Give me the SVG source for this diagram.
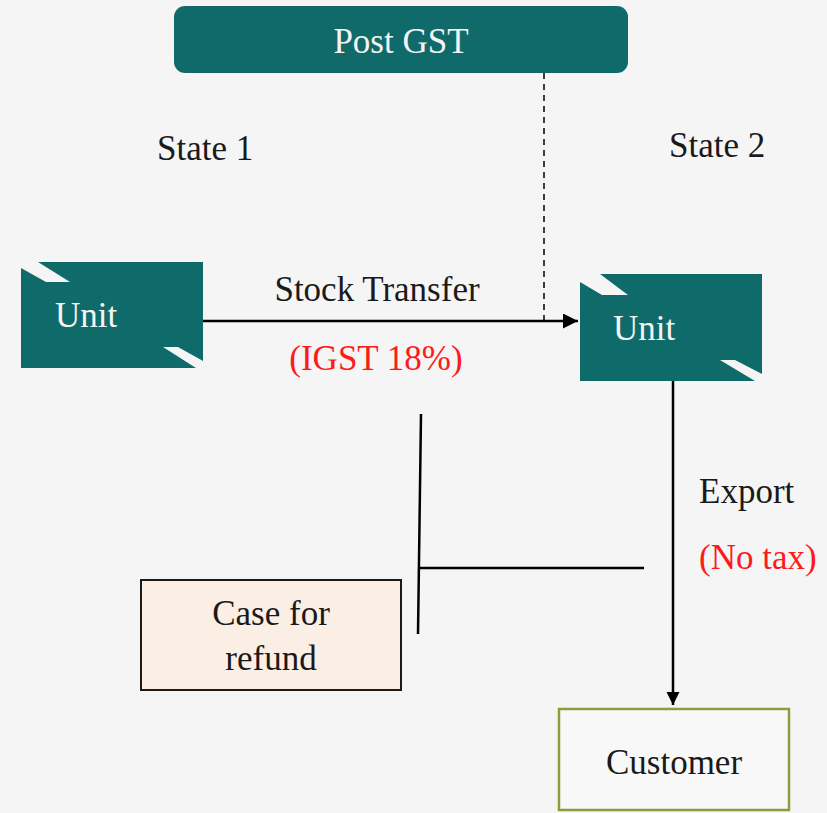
<svg xmlns="http://www.w3.org/2000/svg" width="827" height="813" viewBox="0 0 827 813">
  <defs>
    <marker id="arrow" viewBox="0 0 10 10" refX="10" refY="5" markerWidth="6" markerHeight="6" markerUnits="strokeWidth" orient="auto">
      <path d="M0,0 L10,5 L0,10 Z" fill="#000"/>
    </marker>
    <marker id="arrow-v" viewBox="0 0 10 10" refX="10" refY="5" markerWidth="5.3" markerHeight="5.3" markerUnits="strokeWidth" orient="auto">
      <path d="M0,0 L10,5 L0,10 Z" fill="#000"/>
    </marker>
    <style>
      .lbl { font-family: "Liberation Serif", "Times New Roman", serif; font-size: 35px; fill: #1a1a1a; }
      .red { fill: #ff1a1a; }
      .white { fill: #f4f4f4; }
      .teal { fill: #0e6b69; }
      .line { stroke: #000; stroke-width: 2.5; fill: none; }
    </style>
  </defs>

  <rect width="827" height="813" fill="#f5f5f5"/>

  <!-- header -->
  <g id="post-gst">
    <rect x="174" y="6" width="454" height="67" rx="11" fill="#116a6a"/>
    <text class="lbl white" x="401" y="53" text-anchor="middle">Post GST</text>
  </g>

  <text class="lbl" x="157" y="160">State 1</text>
  <text class="lbl" x="669" y="157">State 2</text>

  <!-- unit in state 1 -->
  <g id="unit-1">
    <polygon class="teal" points="21,268 46,282 70,282 38,262 203,262 203,361 178,347 163,347 196,368 21,368"/>
    <text class="lbl white" x="55" y="327">Unit</text>
  </g>

  <!-- unit in state 2 -->
  <g id="unit-2">
    <polygon class="teal" points="580,282 602,295 628,295 600,274 762,274 762,374 735,360 720,360 755,381 580,381"/>
    <text class="lbl white" x="613" y="340">Unit</text>
  </g>

  <g id="refund">
    <rect x="141" y="580" width="260" height="110" fill="#fbeee5" stroke="#1a1a1a" stroke-width="2"/>
    <text class="lbl" x="271" y="625" text-anchor="middle">Case for</text>
    <text class="lbl" x="271" y="670" text-anchor="middle">refund</text>
  </g>

  <g id="customer">
    <rect x="559" y="709" width="230" height="101" fill="#f8f8f8" stroke="#8a9e3c" stroke-width="2.5"/>
    <text class="lbl" x="674" y="774" text-anchor="middle">Customer</text>
  </g>

  <!-- connectors -->
  <g id="connectors">
    <line x1="544" y1="73" x2="544" y2="321" stroke="#000" stroke-width="1.5" stroke-dasharray="6,5"/>
    <line class="line" x1="203" y1="321" x2="578" y2="321" marker-end="url(#arrow)"/>
    <line class="line" x1="673" y1="381" x2="673" y2="705" stroke-width="3" marker-end="url(#arrow-v)"/>
    <line class="line" x1="421" y1="414" x2="418" y2="634" stroke-width="2"/>
    <line class="line" x1="418" y1="568" x2="644" y2="568" stroke-width="2"/>
  </g>

  <text class="lbl" x="377" y="301" text-anchor="middle">Stock Transfer</text>
  <text class="lbl red" x="376" y="370" text-anchor="middle">(IGST 18%)</text>
  <text class="lbl" x="699" y="503">Export</text>
  <text class="lbl red" x="699" y="569">(No tax)</text>
</svg>
